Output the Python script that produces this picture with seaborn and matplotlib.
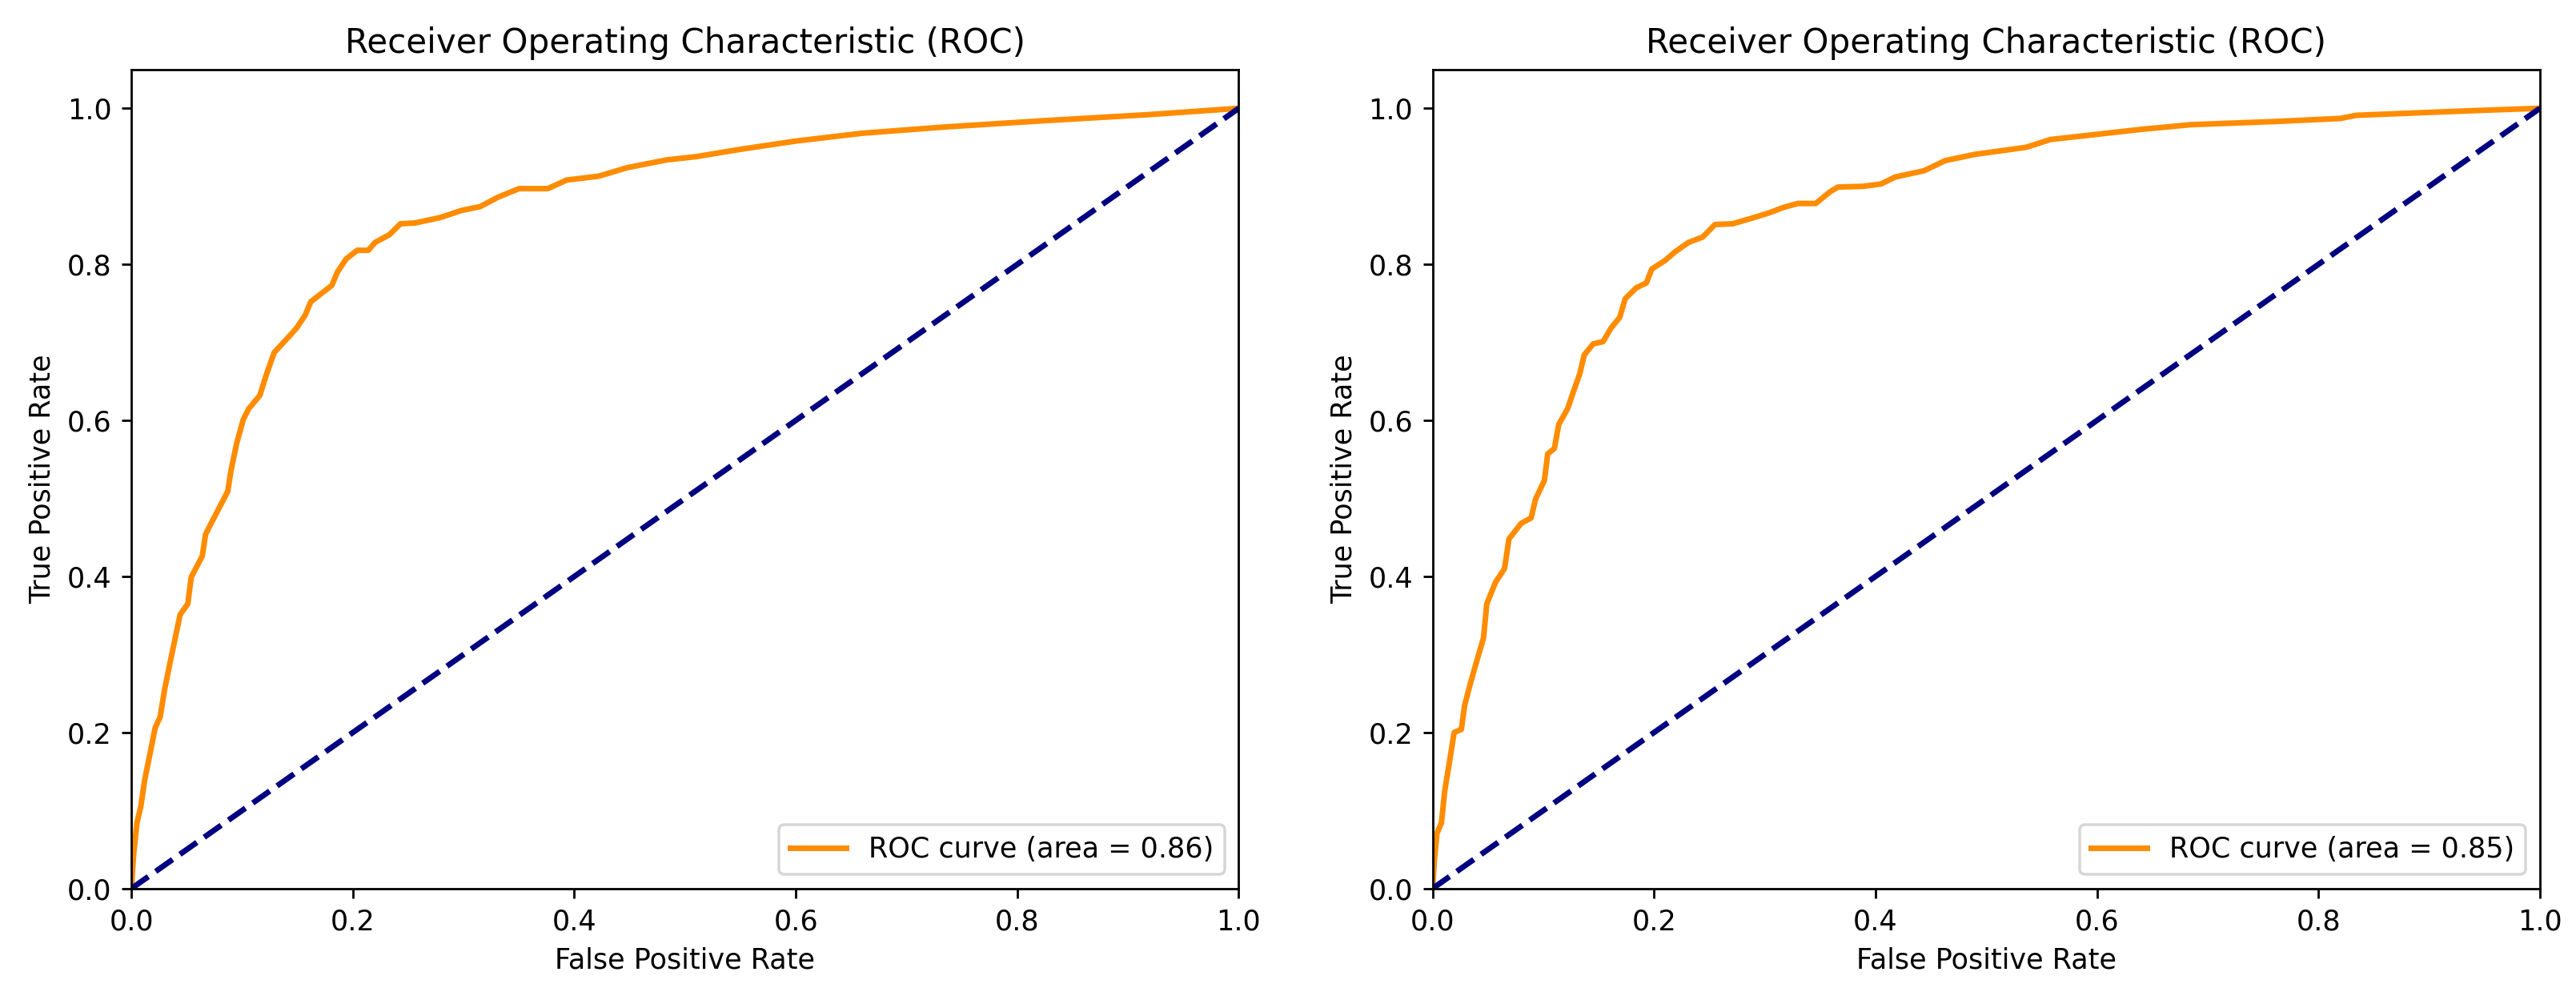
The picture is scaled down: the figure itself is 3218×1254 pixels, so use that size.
import numpy as np
import pandas as pd
import matplotlib
matplotlib.use("Agg")
import matplotlib.pyplot as plt
import seaborn as sns

# ROC curve points
fpr_a = [0, 0.002, 0.005, 0.0085, 0.012, 0.017, 0.0215, 0.026, 0.03, 0.035, 0.039, 0.044,
         0.051, 0.054, 0.064, 0.067, 0.072, 0.087, 0.09, 0.095, 0.101, 0.106, 0.116, 0.122,
         0.129, 0.142, 0.149, 0.157, 0.162, 0.171, 0.181, 0.186, 0.194, 0.204, 0.214, 0.22,
         0.233, 0.243, 0.256, 0.279, 0.298, 0.315, 0.331, 0.35, 0.376, 0.393, 0.422, 0.448,
         0.484, 0.51, 0.548, 0.60, 0.66, 0.734, 0.823, 0.92, 1.0]
tpr_a = [0, 0.043, 0.084, 0.105, 0.139, 0.174, 0.206, 0.22, 0.255, 0.29, 0.317, 0.351,
         0.365, 0.399, 0.426, 0.454, 0.468, 0.509, 0.536, 0.57, 0.601, 0.615, 0.632, 0.659,
         0.687, 0.707, 0.718, 0.735, 0.752, 0.762, 0.773, 0.79, 0.807, 0.818, 0.818, 0.828,
         0.838, 0.852, 0.853, 0.86, 0.869, 0.874, 0.886, 0.897, 0.897, 0.908, 0.913, 0.924,
         0.934, 0.938, 0.947, 0.958, 0.968, 0.976, 0.984, 0.992, 1.0]
auc_a = 0.86

fpr_b = [0, 0.0016, 0.004, 0.008, 0.011, 0.015, 0.0195, 0.026, 0.029, 0.034, 0.041, 0.046,
         0.049, 0.057, 0.065, 0.069, 0.08, 0.089, 0.093, 0.101, 0.104, 0.11, 0.114, 0.122,
         0.127, 0.133, 0.137, 0.145, 0.154, 0.161, 0.169, 0.174, 0.184, 0.193, 0.198, 0.21,
         0.219, 0.231, 0.244, 0.255, 0.271, 0.288, 0.304, 0.317, 0.33, 0.346, 0.359, 0.366,
         0.389, 0.405, 0.418, 0.444, 0.463, 0.49, 0.536, 0.558, 0.596, 0.64, 0.685, 0.76,
         0.82, 0.834, 0.94, 1.0]
tpr_b = [0, 0.036, 0.071, 0.084, 0.125, 0.16, 0.2, 0.204, 0.235, 0.262, 0.297, 0.321,
         0.365, 0.393, 0.41, 0.448, 0.468, 0.475, 0.499, 0.523, 0.557, 0.564, 0.595, 0.615,
         0.636, 0.66, 0.684, 0.698, 0.701, 0.718, 0.732, 0.756, 0.77, 0.776, 0.794, 0.805,
         0.816, 0.828, 0.835, 0.851, 0.852, 0.859, 0.866, 0.873, 0.878, 0.878, 0.893, 0.899,
         0.9, 0.903, 0.912, 0.92, 0.933, 0.941, 0.95, 0.96, 0.966, 0.973, 0.979, 0.983,
         0.987, 0.991, 0.997, 1.0]
auc_b = 0.85

chance = [0, 1]

DPI = 252
fig, axes = plt.subplots(1, 2, figsize=(3218 / DPI, 1254 / DPI), dpi=DPI)
fig.subplots_adjust(left=0.051, right=0.986, bottom=0.115, top=0.931, wspace=0.175)

for ax, fpr, tpr, auc in zip(axes, [fpr_a, fpr_b], [tpr_a, tpr_b], [auc_a, auc_b]):
    df = pd.DataFrame({"fpr": fpr, "tpr": tpr})
    sns.lineplot(data=df, x="fpr", y="tpr", ax=ax, color="darkorange", lw=2,
                 estimator=None, sort=False, label=f"ROC curve (area = {auc:.2f})")
    ax.plot(chance, chance, color="navy", lw=2, linestyle="--")
    ax.set_xlim([0.0, 1.0])
    ax.set_ylim([0.0, 1.05])
    ax.set_xlabel("False Positive Rate")
    ax.set_ylabel("True Positive Rate")
    ax.set_title("Receiver Operating Characteristic (ROC)")
    ax.legend(loc="lower right")

plt.savefig("out.png", dpi=DPI)
plt.close()
